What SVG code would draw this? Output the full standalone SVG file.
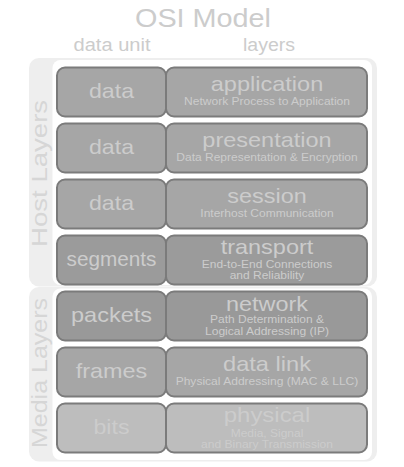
<svg xmlns="http://www.w3.org/2000/svg" width="404" height="467" viewBox="0 0 404 467">
<style>
text{font-family:"Liberation Sans",Arial,sans-serif;text-anchor:middle}
.hdr{fill:#cccccc}
.band{fill:#eeeeee}
.inner{fill:#ffffff}
.vlab{fill:#d6d6d6;font-size:21.5px}
.cell{stroke:#7b7b7b;stroke-width:2}
.f1{fill:#a6a6a6}
.f2{fill:#9b9b9b}
.f3{fill:#999999}
.f4{fill:#bdbdbd}
.lab{fill:#cccccc;font-size:21px}
.ttl{fill:#cccccc;font-size:21px}
.sub{fill:#cccccc;font-size:10.8px}
</style>
<rect width="404" height="467" fill="#ffffff"/>
<text class="hdr" x="203" y="26.5" font-size="26" textLength="136" lengthAdjust="spacingAndGlyphs">OSI Model</text>
<text class="hdr" x="112" y="50.5" font-size="17.5" textLength="77" lengthAdjust="spacingAndGlyphs">data unit</text>
<text class="hdr" x="269" y="50.5" font-size="17.5" textLength="52" lengthAdjust="spacingAndGlyphs">layers</text>

<g id="host-layers">
<rect class="band" x="29" y="58" width="348" height="228.5" rx="10"/>
<rect class="inner" x="52.5" y="60" width="319.5" height="225" rx="8"/>
<text class="vlab" transform="translate(46.5,173.4) rotate(-90)" textLength="147" lengthAdjust="spacingAndGlyphs">Host Layers</text>
</g>
<g id="media-layers">
<rect class="band" x="29" y="287" width="348" height="174.5" rx="10"/>
<rect class="inner" x="52.5" y="288.5" width="319.5" height="171.5" rx="8"/>
<text class="vlab" transform="translate(46.5,373) rotate(-90)" textLength="150" lengthAdjust="spacingAndGlyphs">Media Layers</text>
</g>

<g id="unit-application"><rect class="cell f1" x="57" y="67.5" width="109" height="49" rx="8"/><text class="lab" x="111.5" y="97.5" textLength="45" lengthAdjust="spacingAndGlyphs">data</text></g>
<g id="layer-application"><rect class="cell f1" x="166" y="67.5" width="201" height="49" rx="8"/><text class="ttl" x="267" y="90.5" textLength="112.5" lengthAdjust="spacingAndGlyphs">application</text><text class="sub" x="267" y="104.5" textLength="166" lengthAdjust="spacingAndGlyphs">Network Process to Application</text></g>

<g id="unit-presentation"><rect class="cell f1" x="57" y="123.5" width="109" height="49" rx="8"/><text class="lab" x="111.5" y="153.5" textLength="45" lengthAdjust="spacingAndGlyphs">data</text></g>
<g id="layer-presentation"><rect class="cell f1" x="166" y="123.5" width="201" height="49" rx="8"/><text class="ttl" x="267" y="146.5" textLength="129.3" lengthAdjust="spacingAndGlyphs">presentation</text><text class="sub" x="267" y="160.5" textLength="181.4" lengthAdjust="spacingAndGlyphs">Data Representation &amp; Encryption</text></g>

<g id="unit-session"><rect class="cell f1" x="57" y="179.5" width="109" height="49" rx="8"/><text class="lab" x="111.5" y="209.5" textLength="45" lengthAdjust="spacingAndGlyphs">data</text></g>
<g id="layer-session"><rect class="cell f1" x="166" y="179.5" width="201" height="49" rx="8"/><text class="ttl" x="267" y="202.5" textLength="79.5" lengthAdjust="spacingAndGlyphs">session</text><text class="sub" x="267" y="216.5" textLength="133.4" lengthAdjust="spacingAndGlyphs">Interhost Communication</text></g>

<g id="unit-transport"><rect class="cell f2" x="57" y="235.5" width="109" height="49" rx="8"/><text class="lab" x="111.5" y="266" font-size="19" textLength="90" lengthAdjust="spacingAndGlyphs">segments</text></g>
<g id="layer-transport"><rect class="cell f2" x="166" y="235.5" width="201" height="49" rx="8"/><text class="ttl" x="267" y="253.5" textLength="92.7" lengthAdjust="spacingAndGlyphs">transport</text><text class="sub" x="267" y="267.5" textLength="130.5" lengthAdjust="spacingAndGlyphs">End-to-End Connections</text><text class="sub" x="267" y="279" textLength="74.7" lengthAdjust="spacingAndGlyphs">and Reliability</text></g>

<g id="unit-network"><rect class="cell f3" x="57" y="291.5" width="109" height="49" rx="8"/><text class="lab" x="111.5" y="321.5" textLength="81" lengthAdjust="spacingAndGlyphs">packets</text></g>
<g id="layer-network"><rect class="cell f3" x="166" y="291.5" width="201" height="49" rx="8"/><text class="ttl" x="267" y="310.5" textLength="82" lengthAdjust="spacingAndGlyphs">network</text><text class="sub" x="267" y="323" textLength="114" lengthAdjust="spacingAndGlyphs">Path Determination &amp;</text><text class="sub" x="267" y="334.5" textLength="124" lengthAdjust="spacingAndGlyphs">Logical Addressing (IP)</text></g>

<g id="unit-datalink"><rect class="cell f1" x="57" y="347.5" width="109" height="49" rx="8"/><text class="lab" x="111.5" y="377.5" textLength="71.5" lengthAdjust="spacingAndGlyphs">frames</text></g>
<g id="layer-datalink"><rect class="cell f1" x="166" y="347.5" width="201" height="49" rx="8"/><text class="ttl" x="267" y="370.5" textLength="88" lengthAdjust="spacingAndGlyphs">data link</text><text class="sub" x="267" y="384.5" textLength="182.7" lengthAdjust="spacingAndGlyphs">Physical Addressing (MAC &amp; LLC)</text></g>

<g id="unit-physical"><rect class="cell f4" x="57" y="403.5" width="109" height="49" rx="8"/><text class="lab" x="111.5" y="434" textLength="36" lengthAdjust="spacingAndGlyphs">bits</text></g>
<g id="layer-physical"><rect class="cell f4" x="166" y="403.5" width="201" height="49" rx="8"/><text class="ttl" x="267" y="422" textLength="86.5" lengthAdjust="spacingAndGlyphs">physical</text><text class="sub" x="267" y="436.5" textLength="72.7" lengthAdjust="spacingAndGlyphs">Media, Signal</text><text class="sub" x="267" y="448" textLength="132" lengthAdjust="spacingAndGlyphs">and Binary Transmission</text></g>

<g id="connectors"/>
</svg>
